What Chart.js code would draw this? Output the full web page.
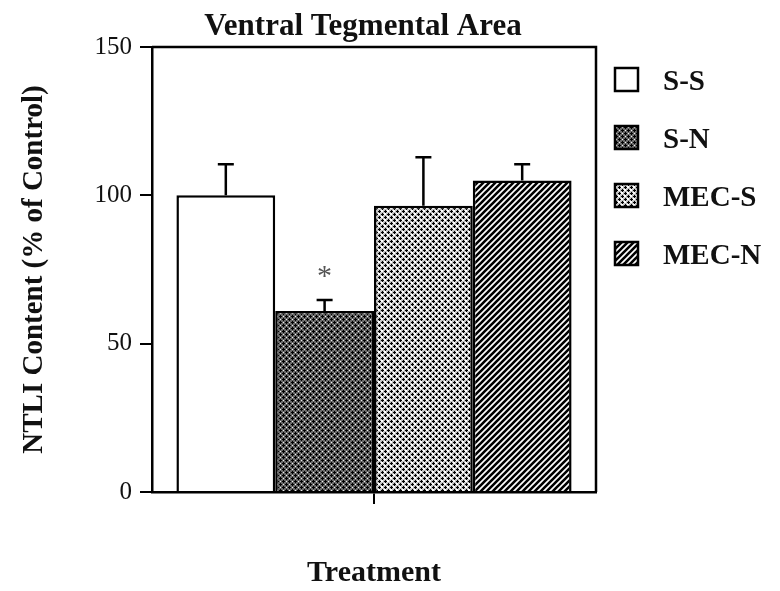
<!DOCTYPE html>
<html>
<head>
<meta charset="utf-8">
<script src="https://cdn.jsdelivr.net/npm/chart.js@4.4.1/dist/chart.umd.min.js"></script>
<style>
  html, body { margin: 0; padding: 0; background: #fff; }
  #wrap { width: 780px; height: 591px; }
</style>
</head>
<body>
<div id="wrap"><canvas id="c" width="780" height="591"></canvas></div>
<script>
// ---- data ----
const categories = [''];
const seriesNames = ['S-S', 'S-N', 'MEC-S', 'MEC-N'];
const seriesValues = [100, 61, 96.5, 105];
const seriesSEM = [10.5, 3.7, 16.3, 5.5];
const significant = [false, true, false, false];
const yTicks = [0, 50, 100, 150];
const chartTitle = 'Ventral Tegmental Area';
const yTitle = 'NTLI Content (% of Control)';
const xTitle = 'Treatment';

const FONT = '"Liberation Serif", "Times New Roman", serif';

// ---- patterns ----
function pixelTile(rows, colors) {
  const n = rows.length;
  const c = document.createElement('canvas');
  c.width = n; c.height = n;
  const g = c.getContext('2d');
  rows.forEach((r, y) => {
    [...r].forEach((ch, x) => { g.fillStyle = colors[ch]; g.fillRect(x, y, 1, 1); });
  });
  return document.getElementById('c').getContext('2d').createPattern(c, 'repeat');
}
const patSN = pixelTile([
  'gKgggg',
  'KKKgWg',
  'gKgggg',
  'ggggKg',
  'gWgKKK',
  'ggggKg'
], { K: '#000', g: '#6a6a6a', W: '#f0f0f0' });
const patMS = pixelTile([
  'gKgWWg',
  'KKKWWg',
  'gKgggg',
  'WWggKg',
  'WWgKKK',
  'ggggKg'
], { K: '#000', g: '#c4c4c4', W: '#fff' });
function stripeTile() {
  const c = document.createElement('canvas');
  c.width = 6; c.height = 6;
  const g = c.getContext('2d');
  g.fillStyle = '#fff'; g.fillRect(0, 0, 6, 6);
  g.strokeStyle = '#000'; g.lineWidth = 2.6;
  g.beginPath();
  g.moveTo(-1, 7); g.lineTo(7, -1);
  g.moveTo(-4, 4); g.lineTo(4, -4);
  g.moveTo(2, 10); g.lineTo(10, 2);
  g.stroke();
  return document.getElementById('c').getContext('2d').createPattern(c, 'repeat');
}
const patMN = stripeTile();
const fills = ['#ffffff', patSN, patMS, patMN];

const datasets = seriesNames.map((name, i) => ({
  label: name,
  data: [seriesValues[i]],
  sem: [seriesSEM[i]],
  sig: significant[i],
  backgroundColor: fills[i],
  borderColor: '#000',
  borderWidth: 2.5,
  borderSkipped: 'bottom',
  categoryPercentage: 0.89,
  barPercentage: 1.0
}));

// ---- plugins ----
const boxPlugin = {
  id: 'box',
  afterDraw(chart) {
    const { ctx, chartArea: a } = chart;
    ctx.save();
    ctx.strokeStyle = '#000'; ctx.lineWidth = 2.5;
    ctx.beginPath();
    ctx.moveTo(a.left, a.top); ctx.lineTo(a.right, a.top); ctx.lineTo(a.right, a.bottom);
    ctx.stroke();
    ctx.restore();
  }
};

const titlePlugin = {
  id: 'topTitle',
  afterDraw(chart) {
    const { ctx } = chart;
    ctx.save();
    ctx.fillStyle = '#111';
    ctx.font = 'bold 31px ' + FONT;
    ctx.textAlign = 'center';
    ctx.textBaseline = 'alphabetic';
    ctx.fillText(chartTitle, 363, 35);
    ctx.restore();
  }
};

const errPlugin = {
  id: 'errbars',
  afterDatasetsDraw(chart) {
    const { ctx } = chart;
    const y = chart.scales.y;
    ctx.save();
    ctx.strokeStyle = '#000'; ctx.lineWidth = 2.5;
    chart.data.datasets.forEach((ds, i) => {
      const meta = chart.getDatasetMeta(i);
      meta.data.forEach((bar, j) => {
        const v = ds.data[j], e = ds.sem[j];
        const yTop = y.getPixelForValue(v + e);
        const yBar = y.getPixelForValue(v);
        ctx.beginPath();
        ctx.moveTo(bar.x, yBar); ctx.lineTo(bar.x, yTop);
        ctx.moveTo(bar.x - 8, yTop); ctx.lineTo(bar.x + 8, yTop);
        ctx.stroke();
        if (ds.sig) {
          ctx.fillStyle = '#555';
          ctx.font = '30px ' + FONT;
          ctx.textAlign = 'center';
          ctx.textBaseline = 'middle';
          ctx.fillText('*', bar.x, yTop - 23);
        }
      });
    });
    ctx.restore();
  }
};

const legendPlugin = {
  id: 'sideLegend',
  afterDraw(chart) {
    const { ctx } = chart;
    const x0 = 615, y0 = 68, step = 58, box = 23;
    ctx.save();
    chart.data.datasets.forEach((ds, i) => {
      const yy = y0 + i * step;
      ctx.fillStyle = ds.backgroundColor;
      ctx.fillRect(x0, yy, box, box);
      ctx.strokeStyle = '#000'; ctx.lineWidth = 2.5;
      ctx.strokeRect(x0, yy, box, box);
      ctx.fillStyle = '#111';
      ctx.font = 'bold 29px ' + FONT;
      ctx.textAlign = 'left';
      ctx.textBaseline = 'alphabetic';
      ctx.fillText(ds.label, 663, yy + box / 2 + 10);
    });
    ctx.restore();
  }
};

new Chart(document.getElementById('c'), {
  type: 'bar',
  data: { labels: categories, datasets },
  options: {
    responsive: false,
    animation: false,
    devicePixelRatio: 1,
    layout: { padding: { left: 0, right: 184, top: 47, bottom: 0 } },
    plugins: {
      legend: { display: false },
      tooltip: { enabled: false },
      title: { display: false }
    },
    scales: {
      x: {
        grid: { display: true, drawOnChartArea: false, offset: false, tickLength: 12, color: '#000', lineWidth: 2 },
        border: { display: true, color: '#000', width: 2.5 },
        ticks: { display: false },
        title: {
          display: true, text: xTitle, color: '#111',
          font: { family: FONT, size: 30, weight: 'bold' },
          padding: { top: 3, bottom: 0 }
        },
        afterFit(scale) { scale.height = 99; }
      },
      y: {
        min: 0, max: 150,
        afterBuildTicks(scale) { scale.ticks = yTicks.map(v => ({ value: v })); },
        grid: { display: true, drawOnChartArea: false, tickLength: 12, color: '#000', lineWidth: 2 },
        border: { display: true, color: '#000', width: 2.5 },
        ticks: {
          color: '#111', padding: 8,
          font: { family: FONT, size: 25 }
        },
        title: {
          display: true, text: yTitle, color: '#111',
          font: { family: FONT, size: 29, weight: 'bold' },
          padding: { top: 17, bottom: 0 }
        },
        afterFit(scale) { scale.width = 152; }
      }
    }
  },
  plugins: [boxPlugin, errPlugin, legendPlugin, titlePlugin]
});
</script>
</body>
</html>
